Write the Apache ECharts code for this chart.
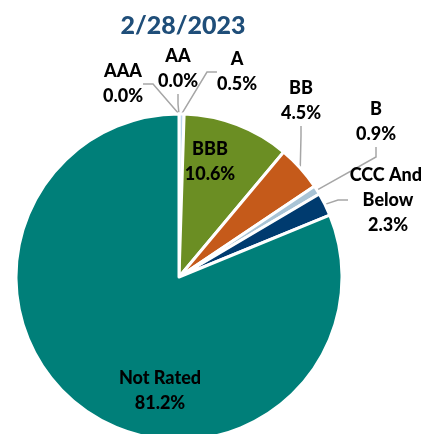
<!DOCTYPE html>
<html>
<head>
<meta charset="utf-8">
<script src="https://cdn.jsdelivr.net/npm/echarts@6/dist/echarts.min.js"></script>
<style>
  html, body { margin: 0; padding: 0; background: #fff; }
  #chart { width: 427px; height: 434px; }
</style>
</head>
<body>
<div id="chart"></div>
<script>
// ratings and their share (%)
const ratings = ['AAA', 'AA', 'A', 'BBB', 'BB', 'B', 'CCC And Below', 'Not Rated'];
const shares = [0.0, 0.0, 0.5, 10.6, 4.5, 0.9, 2.3, 81.2];
const colors = ['#2E75B6', '#9DC3E6', '#BDD7EE', '#6B8E23', '#C55A1A', '#A9C4D6', '#003B6F', '#007F79'];

// where each label sits (text centre), inside labels have no line
const labelPos = [
    [123, 84], [178, 69], [237, 72], [210, 162],
    [301, 101], [376, 122], [388, 200], [160, 391]
];
const insideLabel = ['BBB', 'Not Rated'];

const chart = echarts.init(document.getElementById('chart'));

const option = {
    title: {
        text: '2/28/2023',
        left: 178,
        top: 8,
        textAlign: 'center',
        textStyle: {
            fontFamily: 'Lato',
            fontWeight: 900,
            fontSize: 25,
            color: '#1F4E79'
        }
    },
    series: [
        {
            type: 'pie',
            center: [179, 277],
            radius: 163,
            startAngle: 90,
            avoidLabelOverlap: false,
            itemStyle: {
                borderColor: '#fff',
                borderWidth: 3
            },
            label: {
                show: true,
                position: 'outside',
                formatter: p => p.name + '\n' + p.value.toFixed(1) + '%',
                fontFamily: 'Lato',
                fontWeight: 900,
                fontSize: 18,
                lineHeight: 25,
                color: '#000',
                align: 'center'
            },
            labelLine: {
                show: true,
                length: 10,
                length2: 10,
                lineStyle: { color: '#A6A6A6', width: 1.5 }
            },
            labelLayout: function (params) {
                const pos = labelPos[params.dataIndex];
                return {
                    x: pos[0],
                    y: pos[1],
                    align: 'center',
                    verticalAlign: 'middle'
                };
            },
            data: ratings.map((name, i) => {
                const item = {
                    name: name,
                    value: shares[i],
                    itemStyle: { color: colors[i] }
                };
                if (insideLabel.indexOf(name) >= 0) {
                    item.labelLine = { show: false };
                }
                if (name === 'CCC And Below') {
                    item.label = { width: 80, overflow: 'break' };
                }
                return item;
            })
        }
    ]
};

chart.setOption(option);
</script>
</body>
</html>
